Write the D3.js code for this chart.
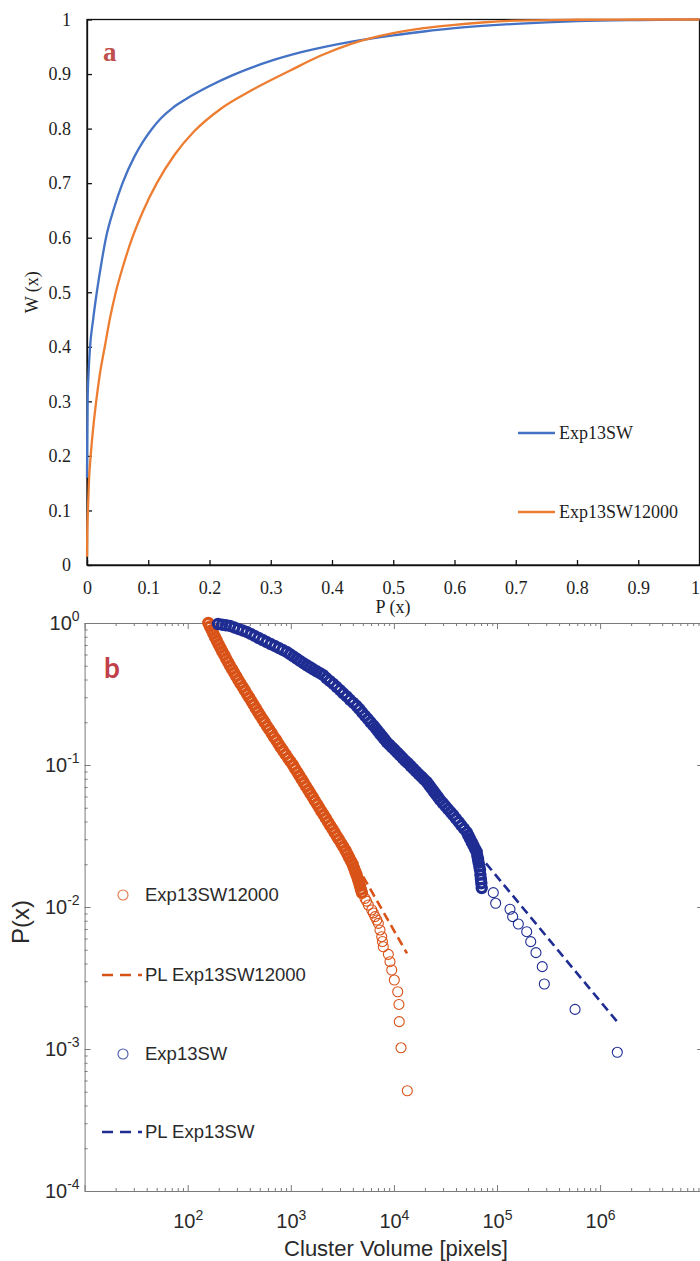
<!DOCTYPE html>
<html>
<head>
<meta charset="utf-8">
<script src="https://cdn.jsdelivr.net/npm/d3@7"></script>
<style>
  body { margin: 0; background: #fff; }
</style>
</head>
<body>
<div id="chart"></div>
<script>
// ---- panel a : W(x) against P(x) ----
var fracTicks = [0, 0.1, 0.2, 0.3, 0.4, 0.5, 0.6, 0.7, 0.8, 0.9, 1];

var swP = [0, 0.0003, 0.001, 0.0025, 0.005, 0.01, 0.016, 0.023, 0.031, 0.043, 0.058, 0.078, 0.092, 0.105,
           0.12, 0.14, 0.16, 0.18, 0.2, 0.238, 0.3, 0.35, 0.43, 0.5, 0.55, 0.6, 0.7, 0.8, 0.9, 1.0];
var swW = [0.16, 0.22, 0.3, 0.35, 0.4, 0.45, 0.5, 0.55, 0.6, 0.65, 0.7, 0.75, 0.777, 0.798,
           0.818, 0.838, 0.853, 0.866, 0.878, 0.898, 0.924, 0.94, 0.959, 0.971, 0.978, 0.984, 0.992, 0.997, 0.999, 1.0];

var sw12P = [0, 0.0005, 0.0015, 0.003, 0.006, 0.01, 0.015, 0.021, 0.029, 0.038, 0.047, 0.06, 0.074, 0.092,
             0.114, 0.143, 0.175, 0.218, 0.27, 0.331, 0.38, 0.43, 0.5, 0.55, 0.6, 0.65, 0.7, 0.8, 0.9, 1.0];
var sw12W = [0.015, 0.06, 0.1, 0.15, 0.2, 0.25, 0.3, 0.35, 0.4, 0.455, 0.5, 0.552, 0.6, 0.65,
             0.7, 0.752, 0.795, 0.836, 0.871, 0.906, 0.933, 0.955, 0.975, 0.984, 0.99, 0.995, 0.998, 0.9995, 1.0, 1.0];

// ---- panel b : P(x) against cluster volume ----
var volumeDecades = [2, 3, 4, 5, 6];
var probDecades = [0, -1, -2, -3, -4];

// Exp13SW12000 : overplotted body, then the separate tail points
var sw12Volume = [158.5, 164.4, 170.8, 177.4, 184.1, 191.7, 199.5, 207.7, 216.3, 225.9,
  235.8, 246.0, 257.0, 269.2, 281.8, 295.1, 309.0, 324.3, 340.8, 358.1,
  375.8, 394.5, 414.6, 435.5, 457.1, 479.7, 504.1, 529.7, 555.9, 585.5,
  616.6, 649.4, 683.9, 720.3, 758.6, 798.9, 841.4, 889.2, 938.7, 990.8,
  1047, 1099, 1155, 1213, 1274, 1337, 1404, 1476, 1549, 1626,
  1708, 1795, 1884, 1977, 2078, 2183, 2291, 2404, 2527, 2655,
  2786, 2924, 3073, 3228, 3388, 3528, 3673, 3824, 3981, 4097,
  4217, 4341, 4467, 4571, 4677, 4786, 4898];
var sw12Prob = [1, 0.944, 0.891, 0.841, 0.794, 0.750, 0.708, 0.668, 0.631, 0.596,
  0.562, 0.531, 0.501, 0.473, 0.447, 0.422, 0.398, 0.376, 0.355, 0.335,
  0.316, 0.299, 0.282, 0.266, 0.251, 0.237, 0.224, 0.211, 0.200, 0.188,
  0.178, 0.168, 0.158, 0.150, 0.141, 0.133, 0.126, 0.119, 0.112, 0.106,
  0.100, 0.0944, 0.0891, 0.0841, 0.0794, 0.0750, 0.0708, 0.0668, 0.0631, 0.0596,
  0.0562, 0.0531, 0.0501, 0.0473, 0.0447, 0.0422, 0.0398, 0.0376, 0.0355, 0.0335,
  0.0316, 0.0299, 0.0282, 0.0266, 0.0251, 0.0237, 0.0224, 0.0211, 0.0200, 0.0188,
  0.0178, 0.0168, 0.0158, 0.0150, 0.0141, 0.0133, 0.0126];
var sw12TailVolume = [5248, 5420, 5649, 6095, 6310, 6561, 6823, 7063, 7328, 7621,
  7745, 7889, 8831, 9162, 9528, 10093, 10890, 11194, 11272, 11722, 13490];
var sw12TailProb = [0.0115, 0.0110, 0.01033, 0.00953, 0.00908, 0.00855, 0.00810, 0.00767, 0.00689, 0.00618,
  0.00571, 0.00525, 0.00464, 0.00412, 0.00360, 0.00306, 0.00253, 0.00206, 0.00156, 0.00102, 0.000508];

// Exp13SW
var swVolume = [196.8, 215.3, 235.0, 257.0, 282.1, 309.7, 340.1, 373.3, 408.3, 445.7,
  487.5, 533.3, 583.4, 638.3, 698.2, 762.1, 833.7, 912.0, 981.8, 1059,
  1140, 1227, 1324, 1426, 1535, 1652, 1782, 1919, 2065, 2223,
  2399, 2582, 2786, 2999, 3228, 3483, 3750, 4046, 4355, 4634,
  4932, 5248, 5572, 5929, 6310, 6637, 6966, 7328, 7709, 8091,
  8511, 9036, 9594, 10160, 10790, 11460, 12160, 12910, 13680, 14520,
  15420, 16370, 17380, 18450, 19590, 20800, 21880, 22960, 24150, 25350,
  26670, 27990, 29720, 31550, 33420, 35480, 37670, 39990, 42460, 45080,
  47860, 50820, 52720, 54700, 56890, 59020, 61240, 63530, 64420, 65460,
  66370, 67450, 68390, 69020, 69820, 70470, 71120];
var swProb = [0.984, 0.973, 0.964, 0.953, 0.930, 0.908, 0.886, 0.865, 0.838, 0.811,
  0.784, 0.759, 0.734, 0.711, 0.689, 0.667, 0.646, 0.625, 0.603, 0.582,
  0.561, 0.541, 0.522, 0.504, 0.488, 0.472, 0.457, 0.443, 0.429, 0.408,
  0.389, 0.372, 0.354, 0.337, 0.320, 0.304, 0.288, 0.274, 0.260, 0.247,
  0.234, 0.222, 0.211, 0.200, 0.190, 0.182, 0.174, 0.166, 0.159, 0.152,
  0.145, 0.139, 0.133, 0.128, 0.122, 0.117, 0.112, 0.107, 0.103, 0.0984,
  0.0942, 0.0902, 0.0863, 0.0828, 0.0793, 0.0759, 0.0723, 0.0689, 0.0656, 0.0625,
  0.0596, 0.0568, 0.0540, 0.0514, 0.0489, 0.0466, 0.0443, 0.0419, 0.0397, 0.0376,
  0.0356, 0.0337, 0.0319, 0.0303, 0.0286, 0.0272, 0.0257, 0.0244, 0.0230, 0.0217,
  0.0205, 0.0193, 0.0182, 0.0169, 0.0157, 0.0147, 0.0136];
var swTailVolume = [92045, 97050, 133660, 141900, 161060, 194090, 212320, 238780, 274790, 287740, 571490, 1468900];
var swTailProb = [0.01262, 0.01062, 0.00964, 0.00855, 0.00759, 0.00670, 0.00570, 0.00477, 0.00380, 0.00287, 0.00190, 0.000948];

// power-law fits (end points of the dashed lines)
var plSw12Volume = [3162, 13400];
var plSw12Prob = [0.0296, 0.00471];
var plSwVolume = [52480, 1449000];
var plSwProb = [0.0288, 0.00157];

var blueA = "#4472c4", orangeA = "#ed7d31";
var orangeB = "#d95319", blueB = "#1f2d93";
var serif = "'Liberation Serif', 'Times New Roman', serif";
var sans = "'Liberation Sans', Arial, sans-serif";

var svg = d3.select("#chart").append("svg")
    .attr("width", 700)
    .attr("height", 1261);

// ================= panel a =================
var xA = d3.scaleLinear().domain([0, 1]).range([87, 699.5]);
var yA = d3.scaleLinear().domain([0, 1]).range([565, 19.5]);

var gA = svg.append("g");

gA.append("g")
    .attr("transform", "translate(0," + yA(0) + ")")
    .call(d3.axisBottom(xA).tickValues(fracTicks).tickFormat(String)
        .tickSizeInner(-5).tickSizeOuter(0).tickPadding(16))
    // the last label sits on the page edge: keep it inside
    .call(g => g.selectAll(".tick text").filter(d => d === 1)
        .attr("text-anchor", "end").attr("x", 0));

gA.append("g")
    .attr("transform", "translate(" + xA(0) + ",0)")
    .call(d3.axisLeft(yA).tickValues(fracTicks).tickFormat(String)
        .tickSizeInner(-5).tickSizeOuter(0).tickPadding(16));

gA.selectAll(".domain, .tick line").attr("stroke", "#111").attr("stroke-width", 1.3);

gA.append("rect")
    .attr("x", xA(0)).attr("y", yA(1))
    .attr("width", xA(1) - xA(0)).attr("height", yA(0) - yA(1))
    .attr("fill", "none").attr("stroke", "#111").attr("stroke-width", 1.3);

var lineA = d3.line()
    .x(d => xA(d[0]))
    .y(d => yA(d[1]))
    .curve(d3.curveMonotoneX);

gA.append("path").datum(d3.zip(swP, swW))
    .attr("d", lineA).attr("fill", "none")
    .attr("stroke", blueA).attr("stroke-width", 2.3);

gA.append("path").datum(d3.zip(sw12P, sw12W))
    .attr("d", lineA).attr("fill", "none")
    .attr("stroke", orangeA).attr("stroke-width", 2.3);

var legendA = [
    { name: "Exp13SW", color: blueA, y: 433 },
    { name: "Exp13SW12000", color: orangeA, y: 512 }
];
legendA.forEach(function (e) {
    gA.append("line").attr("x1", 518).attr("x2", 555).attr("y1", e.y).attr("y2", e.y)
        .attr("stroke", e.color).attr("stroke-width", 2.3);
    gA.append("text").attr("x", 559).attr("y", e.y).attr("dy", "0.33em").text(e.name);
});

gA.append("text")
    .attr("x", 393).attr("y", 613)
    .attr("text-anchor", "middle")
    .text("P (x)");

gA.append("text")
    .attr("transform", "translate(38," + yA(0.5) + ") rotate(-90)")
    .attr("text-anchor", "middle")
    .text("W (x)");

gA.selectAll("text")
    .style("font-family", serif).style("font-size", "18px").attr("fill", "#1e1e1e");

gA.append("text")
    .attr("x", 103).attr("y", 61)
    .style("font-family", serif)
    .style("font-size", "27px").style("font-weight", "bold")
    .attr("fill", "#c0504d").text("a");

// ================= panel b =================
var xB = d3.scaleLog().domain([10, 1e7]).range([84.6, 703.2]);
var yB = d3.scaleLog().domain([1e-4, 1]).range([1191, 623]);

var gB = svg.append("g");
var axisGrey = "#7a7a7a";

function isMajor(d) {
    var e = Math.log10(d);
    return Math.abs(e - Math.round(e)) < 1e-6;
}

var xTicks = xB.ticks();
var yTicks = yB.ticks();

gB.append("g").attr("transform", "translate(0," + yB(1e-4) + ")")
    .call(d3.axisBottom(xB).tickValues(xTicks).tickFormat("").tickSizeInner(-5).tickSizeOuter(0))
    .call(g => g.selectAll(".tick line").attr("y2", d => isMajor(d) ? -6 : -3));
gB.append("g").attr("transform", "translate(0," + yB(1) + ")")
    .call(d3.axisTop(xB).tickValues(xTicks).tickFormat("").tickSizeInner(-5).tickSizeOuter(0))
    .call(g => g.selectAll(".tick line").attr("y2", d => isMajor(d) ? 6 : 3));
gB.append("g").attr("transform", "translate(" + xB(10) + ",0)")
    .call(d3.axisLeft(yB).tickValues(yTicks).tickFormat("").tickSizeInner(-5).tickSizeOuter(0))
    .call(g => g.selectAll(".tick line").attr("x2", d => isMajor(d) ? 6 : 3));
gB.append("g").attr("transform", "translate(" + xB(1e7) + ",0)")
    .call(d3.axisRight(yB).tickValues(yTicks).tickFormat("").tickSizeInner(-5).tickSizeOuter(0))
    .call(g => g.selectAll(".tick line").attr("x2", d => isMajor(d) ? -6 : -3));

gB.selectAll(".domain, .tick line").attr("stroke", axisGrey).attr("stroke-width", 1);

function powerLabel(sel) {
    sel.each(function (d) {
        var t = d3.select(this).text(null);
        t.append("tspan").text("10");
        t.append("tspan").attr("dy", "-0.62em").style("font-size", "14px")
            .text(Math.round(Math.log10(d)));
    });
}

gB.append("g").attr("transform", "translate(0," + yB(1e-4) + ")")
    .call(d3.axisBottom(xB).tickValues(volumeDecades.map(e => Math.pow(10, e)))
        .tickSize(0).tickPadding(23))
    .call(g => g.select(".domain").remove())
    .call(g => g.selectAll("text").call(powerLabel));

gB.append("g").attr("transform", "translate(" + xB(10) + ",0)")
    .call(d3.axisLeft(yB).tickValues(probDecades.map(e => Math.pow(10, e)))
        .tickSize(0).tickPadding(5))
    .call(g => g.select(".domain").remove())
    .call(g => g.selectAll("text").call(powerLabel));

gB.selectAll(".tick text")
    .style("font-family", sans).style("font-size", "20px").attr("fill", "#2a2a2a");

gB.append("text")
    .attr("x", 396).attr("y", 1256)
    .attr("text-anchor", "middle")
    .style("font-family", sans).style("font-size", "22px").attr("fill", "#2a2a2a")
    .text("Cluster Volume [pixels]");

gB.append("text")
    .attr("transform", "translate(29,922) rotate(-90)")
    .attr("text-anchor", "middle")
    .style("font-family", sans).style("font-size", "24px").attr("fill", "#2a2a2a")
    .text("P(x)");

// scatter : heavily overplotted bodies read as solid bands, tails are single rings
function drawPoints(vols, probs, color, r, width) {
    gB.append("g").selectAll("circle")
        .data(d3.zip(vols, probs))
        .join("circle")
        .attr("cx", d => xB(d[0])).attr("cy", d => yB(d[1])).attr("r", r)
        .attr("fill", "none").attr("stroke", color).attr("stroke-width", width);
}
drawPoints(sw12Volume, sw12Prob, orangeB, 4.6, 3.2);
drawPoints(sw12TailVolume, sw12TailProb, orangeB, 5, 1.1);
drawPoints(swVolume, swProb, blueB, 4.6, 3.2);
drawPoints(swTailVolume, swTailProb, blueB, 5, 1.1);

var lineB = d3.line().x(d => xB(d[0])).y(d => yB(d[1]));

gB.append("path").datum(d3.zip(plSw12Volume, plSw12Prob))
    .attr("d", lineB).attr("fill", "none").attr("stroke", orangeB)
    .attr("stroke-width", 2.6).attr("stroke-dasharray", "9,5");

gB.append("path").datum(d3.zip(plSwVolume, plSwProb))
    .attr("d", lineB).attr("fill", "none").attr("stroke", blueB)
    .attr("stroke-width", 2.6).attr("stroke-dasharray", "9,5");

// legend (no box)
var legendB = [
    { name: "Exp13SW12000", color: orangeB, kind: "marker", y: 895 },
    { name: "PL Exp13SW12000", color: orangeB, kind: "dash", y: 975 },
    { name: "Exp13SW", color: blueB, kind: "marker", y: 1054 },
    { name: "PL Exp13SW", color: blueB, kind: "dash", y: 1132 }
];
legendB.forEach(function (e) {
    if (e.kind === "marker") {
        gB.append("circle").attr("cx", 123).attr("cy", e.y).attr("r", 5)
            .attr("fill", "none").attr("stroke", e.color).attr("stroke-width", 1.1)
            .attr("stroke-opacity", 0.8);
    } else {
        gB.append("line").attr("x1", 102).attr("x2", 142).attr("y1", e.y).attr("y2", e.y)
            .attr("stroke", e.color).attr("stroke-width", 2.4).attr("stroke-dasharray", "11,7");
    }
    gB.append("text").attr("x", 145).attr("y", e.y).attr("dy", "0.35em")
        .style("font-family", sans).style("font-size", "18.5px").attr("fill", "#2a2a2a")
        .text(e.name);
});

gB.append("text")
    .attr("x", 104).attr("y", 678)
    .style("font-family", "Lato, 'Open Sans', sans-serif")
    .style("font-size", "28px").style("font-weight", "bold")
    .attr("fill", "#c0404a").text("b");
</script>
</body>
</html>
